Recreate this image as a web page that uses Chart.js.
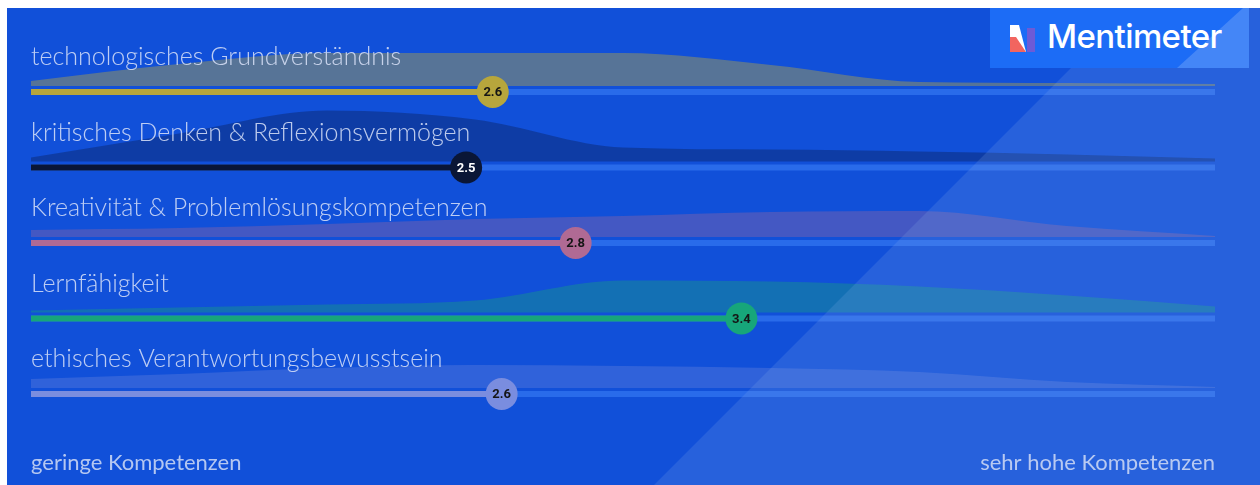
<!DOCTYPE html>
<html>
<head>
<meta charset="utf-8">
<script src="https://cdn.jsdelivr.net/npm/chart.js@4/dist/chart.umd.min.js"></script>
<style>
  html, body { margin: 0; padding: 0; background: #ffffff; }
  #frame { position: absolute; left: 7px; top: 8px; width: 1253px; height: 477px; background: #1150d9; overflow: hidden; }
  #scale_chart { position: absolute; left: 0; top: 0; }
  #logo { position: absolute; left: 983px; top: 0; width: 259px; height: 60px; background: #1c6cf6; overflow: hidden; }
  #logo .corner { position: absolute; left: 0; top: 0; width: 259px; height: 60px; background: rgba(255,255,255,0.18);
                  clip-path: polygon(253px 0, 259px 0, 259px 60px, 187px 60px); }
  #logo svg { position: absolute; left: 20px; top: 17px; }
  #logo span { position: absolute; left: 57px; top: 8px; font-family: Inter, Roboto, sans-serif; font-weight: 500;
               font-size: 33px; letter-spacing: -0.6px; color: #ffffff; }
</style>
</head>
<body>
<div id="frame">
  <canvas id="scale_chart" width="1253" height="477"></canvas>
  <div id="logo">
    <div class="corner"></div>
    <svg width="28" height="27" viewBox="0 0 28 27">
      <polygon points="0,0 9,0 16,27 0,27" fill="#ffffff"/>
      <polygon points="0,12 6,12 16,27 0,27" fill="#f2655f"/>
      <polygon points="17,3 25,3 25,27 17,27" fill="#6d5bd6"/>
    </svg>
    <span>Mentimeter</span>
  </div>
</div>
<script>
// Mentimeter scale question: mean per statement + response distribution

const ctx_scale = document.getElementById("scale_chart").getContext("2d");

const rowLabels = ['technologisches Grundverständnis',
                   'kritisches Denken & Reflexionsvermögen',
                   'Kreativität & Problemlösungskompetenzen',
                   'Lernfähigkeit',
                   'ethisches Verantwortungsbewusstsein'];
const endLabels = ['geringe Kompetenzen', 'sehr hohe Kompetenzen'];

// scale 1..5, distribution height read at every half step
const scalePoints = [1, 1.5, 2, 2.5, 3, 3.5, 4, 4.5, 5];
const dens_tech  = [5, 22, 33, 33, 33, 21, 4, 3, 2];
const dens_krit  = [4, 28, 51, 42, 14, 12, 10, 7, 3];
const dens_krea  = [7, 9, 13, 18, 21, 25, 26, 11, 1];
const dens_lern  = [2, 5, 8, 12, 32, 31, 26, 17, 6];
const dens_ethik = [9, 14, 20, 23, 22, 20, 16, 6, 1];
const means = [2.56, 2.47, 2.84, 3.40, 2.59];

const densities = [dens_tech, dens_krit, dens_krea, dens_lern, dens_ethik];

const barColors  = ['#b7a63c', '#0a1636', '#b06a94', '#17a67a', '#7a8ddf'];
const areaColors = ['rgba(185,166,59,0.42)', 'rgba(8,20,60,0.33)', 'rgba(176,106,148,0.32)',
                    'rgba(23,166,122,0.38)', 'rgba(122,141,223,0.30)'];
const valueText  = ['#151515', '#ffffff', '#151515', '#151515', '#151515'];

const ROW_TOP = 84 ;     // canvas px of first track
const ROW_STEP = 75.5 ;
const AREA_GAP = 6 ;

let datasets = [] ;
for (let i = 0; i < rowLabels.length; i++) {
    let trackY = ROW_TOP + i * ROW_STEP ;
    let base = trackY - AREA_GAP ;
    datasets.push({
        label: rowLabels[i] + ' circle',
        data: [{x: means[i], y: trackY}],
        pointRadius: 16,
        pointHoverRadius: 16,
        pointBackgroundColor: barColors[i],
        pointBorderWidth: 0,
        showLine: false,
        clip: false,
        order: 0,
    });
    datasets.push({
        label: rowLabels[i] + ' bar',
        data: [{x: 1, y: trackY}, {x: means[i], y: trackY}],
        borderColor: barColors[i],
        borderWidth: 6,
        borderCapStyle: 'butt',
        pointRadius: 0,
        showLine: true,
        order: 1,
    });
    datasets.push({
        label: rowLabels[i] + ' track',
        data: [{x: 1, y: trackY}, {x: 5, y: trackY}],
        borderColor: 'rgba(70,140,255,0.45)',
        borderWidth: 6,
        borderCapStyle: 'butt',
        pointRadius: 0,
        showLine: true,
        order: 2,
    });
    datasets.push({
        label: rowLabels[i] + ' distribution',
        data: scalePoints.map((x, j) => { return {x: x, y: base - densities[i][j]}; }),
        borderWidth: 0,
        borderColor: 'rgba(0,0,0,0)',
        backgroundColor: areaColors[i],
        fill: {value: base},
        cubicInterpolationMode: 'monotone',
        pointRadius: 0,
        showLine: true,
        order: 3,
    });
}

const textPlugin = {
    id: 'menti_text',
    afterDatasetsDraw(chart) {
        const c = chart.ctx ;
        const xs = chart.scales.x, ys = chart.scales.y ;
        c.save() ;
        // row titles
        c.font = '300 25px Lato, "Open Sans", sans-serif' ;
        c.fillStyle = 'rgba(218,226,248,0.86)' ;
        c.textAlign = 'left' ;
        c.textBaseline = 'alphabetic' ;
        for (let i = 0; i < rowLabels.length; i++) {
            let y = ys.getPixelForValue(ROW_TOP + i * ROW_STEP) - 27 ;
            c.fillText(rowLabels[i], xs.getPixelForValue(1), y) ;
        }
        // values in the circles
        c.font = 'bold 13px Roboto, Arial, sans-serif' ;
        c.textAlign = 'center' ;
        c.textBaseline = 'middle' ;
        for (let i = 0; i < rowLabels.length; i++) {
            let pt = chart.getDatasetMeta(i * 4).data[0] ;
            c.fillStyle = valueText[i] ;
            c.fillText(means[i].toFixed(1), pt.x, pt.y + 1) ;
        }
        c.restore() ;
    },
    afterDraw(chart) {
        const c = chart.ctx ;
        const xs = chart.scales.x ;
        c.save() ;
        // diagonal lighter band
        c.fillStyle = 'rgba(150,185,235,0.17)' ;
        c.beginPath() ;
        c.moveTo(647, 477) ;
        c.lineTo(1124, 0) ;
        c.lineTo(1253, 0) ;
        c.lineTo(1253, 477) ;
        c.closePath() ;
        c.fill() ;
        // scale end labels
        c.font = '400 22px Lato, "Open Sans", sans-serif' ;
        c.fillStyle = 'rgba(212,222,246,0.84)' ;
        c.textBaseline = 'middle' ;
        c.textAlign = 'left' ;
        c.fillText(endLabels[0], xs.getPixelForValue(1), 455) ;
        c.textAlign = 'right' ;
        c.fillText(endLabels[1], xs.getPixelForValue(5), 455) ;
        c.restore() ;
    }
};

let scale_chart = new Chart(ctx_scale, {
    type: 'scatter',
    data: { datasets: datasets },
    options: {
        responsive: false,
        animation: false,
        events: [],
        layout: { autoPadding: false, padding: { left: 24, right: 45, top: 0, bottom: 0 } },
        scales: {
            x: { type: 'linear', min: 1, max: 5, display: false },
            y: { type: 'linear', min: 0, max: 477, reverse: true, display: false }
        },
        plugins: {
            legend: { display: false },
            tooltip: { enabled: false }
        }
    },
    plugins: [textPlugin]
});
</script>
</body>
</html>
